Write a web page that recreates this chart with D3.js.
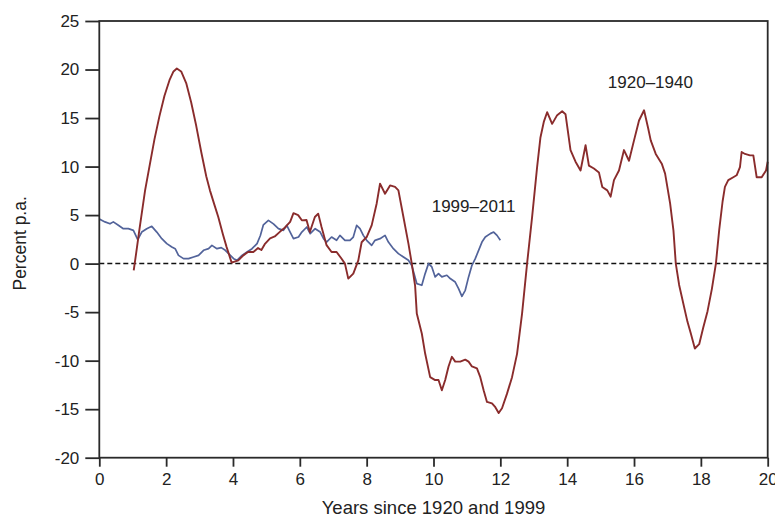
<!DOCTYPE html>
<html>
<head>
<meta charset="utf-8">
<script src="https://cdn.jsdelivr.net/npm/d3@7/dist/d3.min.js"></script>
<style>
  html, body { margin: 0; padding: 0; background: #fff; }
  svg { display: block; }
  text { font-family: "Liberation Sans", Arial, Helvetica, sans-serif; fill: #222; }
</style>
</head>
<body>
<svg id="chart" width="775" height="518"></svg>
<script>
// ---- data ----
const xTicks = [0, 2, 4, 6, 8, 10, 12, 14, 16, 18, 20];
const yTicks = [-20, -15, -10, -5, 0, 5, 10, 15, 20, 25];

const redYears = [1.03,1.1,1.2,1.37,1.5,1.65,1.8,1.95,2.1,2.22,2.32,2.45,2.6,2.75,2.9,3.05,3.2,3.31,3.45,3.56,3.7,3.81,3.96,
  4.16,4.31,4.45,4.61,4.75,4.85,4.95,5.11,5.25,5.41,5.55,5.71,5.81,5.95,6.06,6.2,6.3,6.45,6.55,6.65,6.8,6.95,7.1,7.25,7.35,7.45,7.6,7.75,7.85,8.0,8.15,8.3,8.4,8.55,8.7,8.85,8.95,9.1,9.25,9.35,9.45,9.5,9.65,9.75,9.9,10.05,10.15,10.25,10.35,10.45,10.55,10.65,10.8,10.95,11.05,11.15,11.3,11.4,11.5,11.6,11.75,11.85,11.95,12.05,12.2,12.35,12.5,12.65,12.8,12.95,13.1,13.2,13.3,13.4,13.55,13.7,13.85,13.95,14.1,14.25,14.4,14.55,14.65,14.8,14.95,15.05,15.2,15.3,15.4,15.55,15.7,15.85,16.0,16.15,16.3,16.42,16.5,16.65,16.83,16.93,17.08,17.18,17.25,17.35,17.5,17.6,17.7,17.82,17.95,18.07,18.2,18.33,18.45,18.55,18.65,18.72,18.82,18.97,19.07,19.17,19.22,19.32,19.47,19.57,19.67,19.82,19.95,20.0];
const redValues = [-0.7,1.0,3.5,7.55,10,12.8,15.2,17.3,18.9,19.8,20.1,19.8,18.6,16.6,14.2,11.5,9,7.55,6.0,4.8,3.0,1.7,0.1,
  0.34,0.85,1.2,1.2,1.6,1.4,2.0,2.6,2.8,3.3,3.7,4.3,5.2,5.0,4.46,4.5,3.25,4.8,5.15,3.77,1.9,1.2,1.2,0.5,0,-1.55,-1.03,0.34,2.2,2.74,3.94,6.2,8.24,7.2,8.06,7.9,7.55,4.8,2.06,0,-2.3,-5.15,-7.2,-9.27,-11.7,-12.0,-12.0,-13.05,-12.0,-10.6,-9.6,-10.1,-10.1,-9.9,-10.1,-10.6,-10.8,-11.7,-13.05,-14.25,-14.4,-14.8,-15.4,-14.9,-13.4,-11.7,-9.3,-5.15,0,4.8,9.95,13.0,14.6,15.6,14.4,15.3,15.7,15.4,11.7,10.5,9.6,12.2,10.1,9.8,9.4,7.9,7.55,6.9,8.6,9.6,11.7,10.6,12.7,14.75,15.8,14.0,12.7,11.3,10.3,9.27,6.2,3.4,0,-2.2,-4.5,-6.0,-7.2,-8.75,-8.3,-6.6,-4.9,-2.6,0,3.5,6.4,7.9,8.6,8.9,9.1,9.95,11.5,11.3,11.15,11.15,8.9,8.9,9.6,10.5];

const blueYears = [0.0,0.17,0.32,0.42,0.57,0.72,0.87,1.02,1.15,1.27,1.42,1.57,1.72,1.87,2.02,2.17,2.27,2.37,2.52,2.67,2.82,2.97,3.12,3.27,3.37,3.52,3.65,3.77,3.87,4.02,4.12,4.27,4.42,4.57,4.72,4.82,4.91,5.06,5.21,5.36,5.51,5.61,5.71,5.81,5.96,6.06,6.21,6.31,6.46,6.61,6.71,6.8,6.95,7.1,7.2,7.35,7.5,7.6,7.7,7.8,7.9,8.0,8.15,8.25,8.4,8.55,8.65,8.8,8.95,9.1,9.25,9.35,9.5,9.65,9.75,9.85,9.95,10.05,10.15,10.25,10.4,10.5,10.65,10.75,10.85,10.95,11.05,11.15,11.25,11.35,11.45,11.55,11.7,11.8,11.9,12.0];
const blueValues = [4.6,4.3,4.1,4.3,3.95,3.6,3.6,3.43,2.47,3.25,3.6,3.84,3.25,2.57,2.06,1.71,1.54,0.85,0.51,0.51,0.68,0.85,1.37,1.54,1.88,1.54,1.65,1.37,1.03,0.51,0.34,0.85,1.2,1.54,2.06,2.9,4.0,4.46,4.1,3.6,3.43,3.94,3.25,2.57,2.74,3.25,3.77,3.09,3.6,3.25,2.57,2.22,2.74,2.4,2.91,2.4,2.4,2.74,3.94,3.6,2.91,2.4,1.88,2.4,2.57,2.91,2.22,1.54,1.03,0.68,0.34,-0.2,-2.06,-2.23,-1.03,0,-0.34,-1.37,-1.03,-1.37,-1.2,-1.54,-1.9,-2.57,-3.37,-2.75,-1.37,-0.17,0.51,1.37,2.22,2.74,3.09,3.25,2.91,2.4];

const seriesLabels = [
  { text: "1920\u20131940", x: 16.49, y: 18.7 },
  { text: "1999\u20132011", x: 11.2, y: 5.9 }
];
const xTitle = "Years since 1920 and 1999";
const yTitle = "Percent p.a.";

(function () {
  const svg = d3.select("#chart");
  const mLeft = 99.3, mRight = 767.7, mTop = 21, mBottom = 457.7;
  const x = d3.scaleLinear().domain([0, 20]).range([mLeft, mRight]);
  const y = d3.scaleLinear().domain([-20, 25]).range([mBottom, mTop]);
  const axisColor = "#2a2a2a";
  const fontSize = 17;
  const fmt = d => String(d);

  // zero dashed line
  svg.append("line")
    .attr("x1", x(0)).attr("x2", x(20))
    .attr("y1", y(0)).attr("y2", y(0))
    .attr("stroke", "#111").attr("stroke-width", 1.5)
    .attr("stroke-dasharray", "5,3");

  // lines
  const line = d3.line().x(d => x(d[0])).y(d => y(d[1]));
  const red = redYears.map((v, i) => [v, redValues[i]]);
  const blue = blueYears.map((v, i) => [v, blueValues[i]]);

  svg.append("path").datum(blue)
    .attr("d", line).attr("fill", "none")
    .attr("stroke", "#52639a").attr("stroke-width", 1.7)
    .attr("stroke-linejoin", "round");
  svg.append("path").datum(red)
    .attr("d", line).attr("fill", "none")
    .attr("stroke", "#8a2c2c").attr("stroke-width", 1.9)
    .attr("stroke-linejoin", "round");

  // frame
  svg.append("rect")
    .attr("x", mLeft).attr("y", mTop)
    .attr("width", mRight - mLeft).attr("height", mBottom - mTop)
    .attr("fill", "none").attr("stroke", axisColor).attr("stroke-width", 1.8);

  // axes
  const yAxis = svg.append("g")
    .attr("transform", `translate(${mLeft},0)`)
    .call(d3.axisLeft(y).tickValues(yTicks).tickSize(14).tickSizeOuter(0).tickPadding(6).tickFormat(fmt));
  const xAxis = svg.append("g")
    .attr("transform", `translate(0,${mBottom})`)
    .call(d3.axisBottom(x).tickValues(xTicks).tickSize(9).tickSizeOuter(0).tickPadding(6).tickFormat(fmt));

  [yAxis, xAxis].forEach(g => {
    g.select(".domain").remove();
    g.selectAll(".tick line").attr("stroke", axisColor).attr("stroke-width", 1.8);
    g.selectAll(".tick text")
      .attr("font-family", "'Liberation Sans', Arial, sans-serif")
      .attr("font-size", fontSize).attr("fill", "#222");
  });

  // series labels
  svg.selectAll(".slabel").data(seriesLabels).enter().append("text")
    .attr("class", "slabel")
    .attr("x", d => x(d.x)).attr("y", d => y(d.y))
    .attr("dy", "0.35em")
    .attr("text-anchor", "middle")
    .attr("font-size", fontSize)
    .text(d => d.text);

  // axis titles
  svg.append("text")
    .attr("x", (mLeft + mRight) / 2).attr("y", 514)
    .attr("text-anchor", "middle")
    .attr("font-size", 18.5)
    .text(xTitle);
  svg.append("text")
    .attr("transform", `translate(26,${(mTop + mBottom) / 2 + 4}) rotate(-90)`)
    .attr("text-anchor", "middle")
    .attr("font-size", 17.5)
    .text(yTitle);
})();
</script>
</body>
</html>
